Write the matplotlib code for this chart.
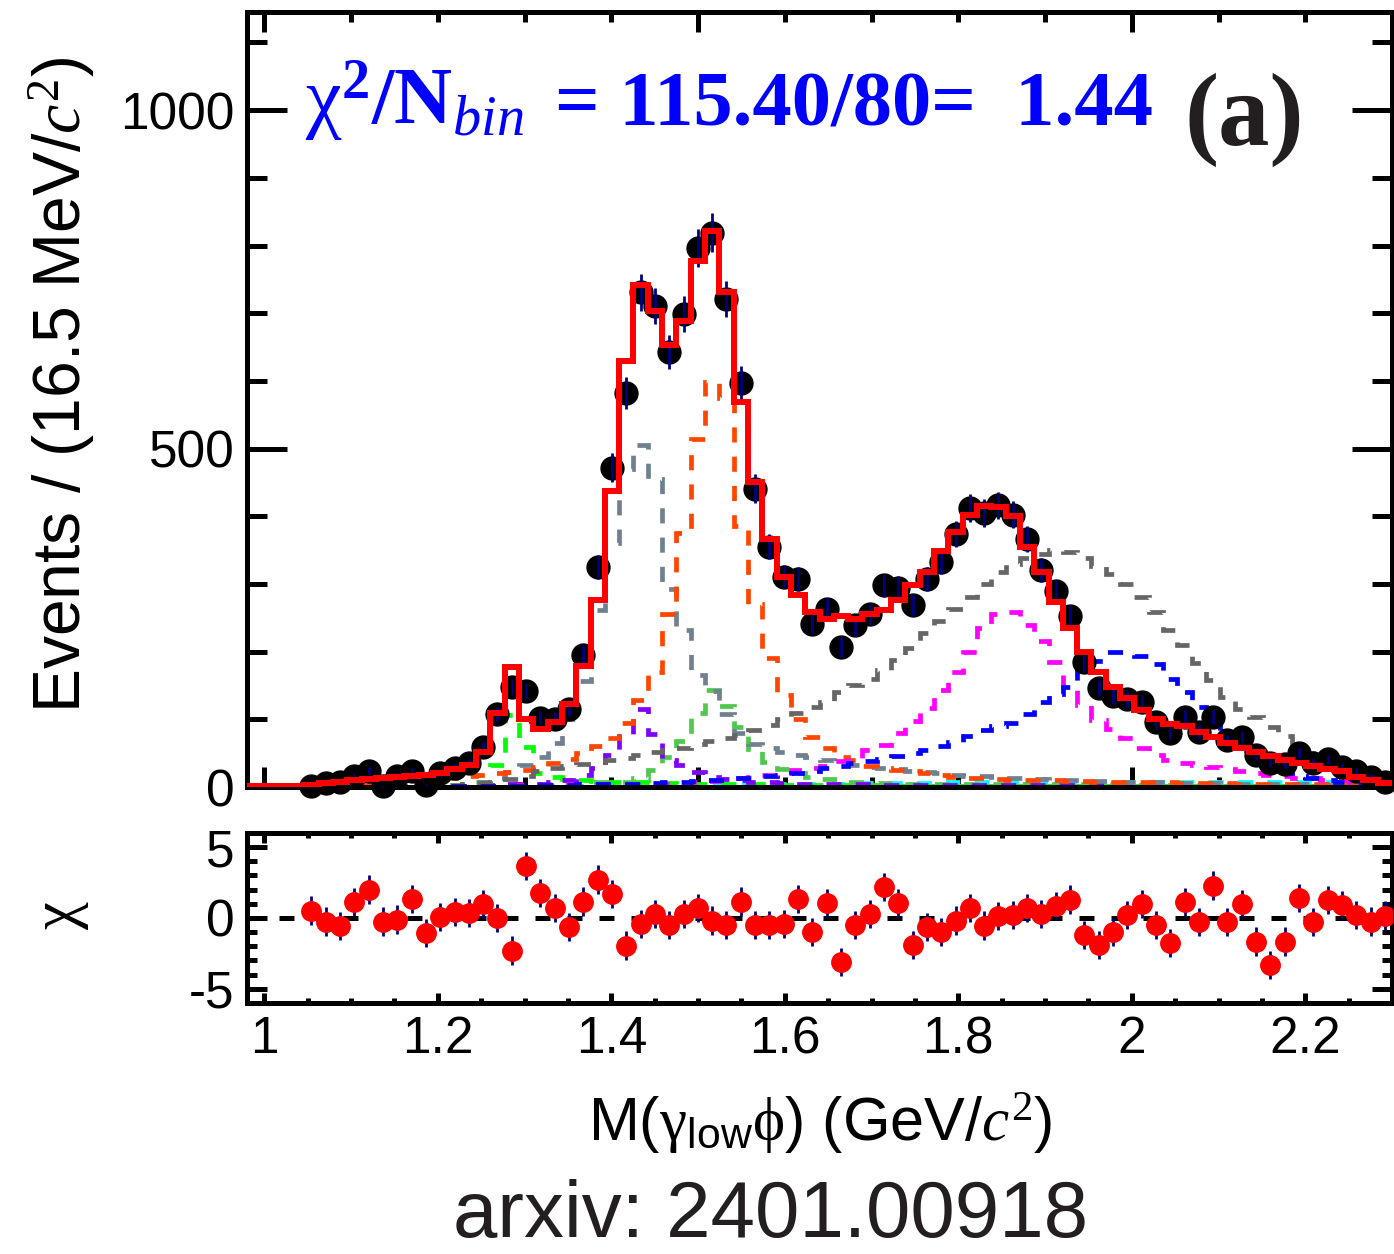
import matplotlib
matplotlib.use("Agg")
import matplotlib.pyplot as plt
from matplotlib.ticker import MultipleLocator, FixedLocator, FixedFormatter
import numpy as np

plt.rcParams['font.family'] = ['Liberation Sans', 'DejaVu Sans']
plt.rcParams['mathtext.fontset'] = 'custom'
plt.rcParams['mathtext.rm'] = 'Liberation Serif'
plt.rcParams['mathtext.it'] = 'Liberation Serif:italic'
plt.rcParams['mathtext.bf'] = 'Liberation Serif:bold'
plt.rcParams['mathtext.sf'] = 'Liberation Sans'

# binning: 80 bins of 16.5 MeV from 0.98 to 2.30 GeV
x_lo = 0.98
bin_w = 0.0165
n_bins = 80
first_data_bin = 4

# observed events per bin (bins 4..79)
counts = [1, 6, 8, 17, 24, 1, 17, 23, 3, 20,
          28, 35, 59, 108, 148, 142, 102, 101, 115, 195,
          325, 472, 582, 731, 711, 643, 699, 796, 819, 721,
          597, 441, 355, 311, 307, 241, 263, 207, 239, 256,
          298, 294, 269, 307, 333, 374, 412, 405, 416, 402,
          366, 321, 289, 253, 184, 146, 134, 130, 125, 96,
          80, 103, 82, 103, 69, 74, 47, 35, 34, 50,
          35, 41, 30, 23, 15, 8]

# total fit (bins 0..79)
fit_total = [1, 1, 1.5, 2, 2.5, 6, 8, 10, 12, 13,
             15, 16, 18, 21, 26, 33, 52, 110, 177, 100,
             85, 96, 123, 179, 277, 437, 630, 742, 703, 653,
             689, 777, 822, 731, 569, 450, 366, 311, 284, 259,
             248, 253, 248, 256, 261, 276, 298, 318, 349, 377,
             402, 415, 414, 400, 354, 317, 274, 235, 200, 170,
             148, 131, 114, 101, 93, 90, 82, 74, 65, 57,
             52, 46, 40, 35, 31, 26, 23, 15, 10, 6]

# chi = (data - fit) / error, bins 4..79
chi = [0.52, -0.26, -0.59, 1.11, 2.0, -0.26, -0.12, 1.34, -1.06, 0.05,
       0.4, 0.35, 0.99, 0.0, -2.3, 3.65, 1.77, 0.68, -0.66, 1.15,
       2.7, 1.7, -1.95, -0.42, 0.28, -0.49, 0.28, 0.68, -0.19, -0.49,
       1.15, -0.49, -0.49, -0.42, 1.34, -1.01, 1.06, -3.13, -0.49, 0.28,
       2.17, 1.04, -1.9, -0.66, -0.97, -0.19, 0.68, -0.54, 0.12, 0.21,
       0.68, 0.28, 0.83, 1.29, -1.2, -1.9, -1.0, 0.21, 0.99, -0.49,
       -1.77, 1.11, -0.3, 2.28, -0.3, 0.99, -1.67, -3.32, -1.67, 1.41,
       -0.3, 1.27, 0.92, 0.21, -0.26, 0.16]

# fit components (bins 0..79)
comp_slate = [0, 0, 0, 0, 0, 0, 0, 0, 0, 0,
              1, 1, 2, 2, 3, 5, 8, 14, 22, 32,
              44, 65, 100, 157, 262, 360, 470, 506, 455, 292,
              232, 165, 142, 108, 80, 64, 58, 52, 48, 44,
              40, 36, 33, 30, 28, 26, 24, 22, 20, 18,
              17, 16, 15, 14, 13, 12, 11, 10, 10, 9,
              9, 8, 8, 7, 7, 6, 6, 6, 5, 5,
              5, 4, 4, 4, 4, 3, 3, 3, 3, 3]
comp_orange = [0, 0, 0, 0, 1, 2, 3, 4, 5, 6,
               8, 9, 10, 12, 14, 16, 18, 20, 22, 25,
               30, 35, 41, 50, 60, 73, 95, 128, 170, 255,
               375, 514, 598, 575, 386, 270, 190, 136, 100, 74,
               58, 45, 40, 31, 28, 25, 23, 21, 18, 15,
               14, 13, 12, 11, 11, 10, 10, 9, 9, 8,
               8, 8, 7, 7, 7, 6, 6, 6, 6, 5,
               5, 5, 5, 4, 4, 4, 4, 3, 3, 3]
comp_lime = [0, 0, 0, 0, 0, 0, 0, 0, 0, 0,
             0, 0, 1, 1, 2, 2, 3, 3, 4, 4,
             5, 5, 6, 6, 7, 7, 8, 14, 25, 45,
             68, 110, 143, 120, 88, 56, 37, 27, 20, 15,
             12, 10, 8, 7, 6, 6, 5, 5, 5, 5,
             5, 5, 4, 4, 4, 4, 4, 4, 4, 4,
             4, 4, 3, 3, 3, 3, 3, 3, 3, 3,
             3, 3, 3, 2, 2, 2, 2, 2, 2, 2]
comp_green = [0, 0, 0, 0, 0, 0, 0, 0, 0, 0,
              0, 0, 1, 2, 3, 5, 8, 32, 106, 59,
              20, 15, 12, 10, 9, 8, 7, 7, 6, 6,
              5, 5, 5, 4, 4, 4, 4, 3, 3, 3,
              3, 3, 3, 3, 2, 2, 2, 2, 2, 2,
              2, 2, 2, 2, 2, 2, 2, 2, 2, 2,
              1, 1, 1, 1, 1, 1, 1, 1, 1, 1,
              1, 1, 1, 1, 1, 1, 1, 1, 1, 1]
comp_purple = [0, 0, 0, 0, 0, 0, 0, 0, 0, 0,
               0, 0, 1, 1, 1, 2, 3, 3, 4, 4,
               5, 7, 10, 18, 28, 48, 75, 115, 78, 40,
               32, 22, 15, 12, 10, 8, 7, 6, 5, 5,
               4, 4, 4, 4, 3, 3, 3, 3, 3, 3,
               3, 3, 3, 3, 3, 3, 3, 3, 3, 3,
               2, 2, 2, 2, 2, 2, 2, 2, 2, 2,
               2, 2, 2, 2, 2, 2, 2, 2, 2, 2]
comp_gray = [0, 0, 0, 0, 0, 0, 0, 0, 0, 0,
             0, 0, 1, 1, 2, 4, 6, 8, 12, 17,
             23, 28, 31, 34, 37, 40, 43, 47, 51, 55,
             58, 63, 68, 72, 77, 84, 92, 100, 110, 118,
             126, 140, 150, 160, 173, 188, 205, 228, 245, 263,
             281, 300, 318, 330, 338, 345, 350, 347, 338, 326,
             315, 300, 280, 258, 232, 210, 183, 158, 133, 115,
             103, 88, 75, 62, 50, 40, 33, 25, 18, 12]
comp_magenta = [0, 0, 0, 0, 0, 0, 0, 0, 0, 0,
                0, 0, 1, 1, 1, 2, 2, 2, 2, 3,
                3, 3, 4, 4, 4, 4, 5, 5, 5, 5,
                6, 7, 9, 11, 13, 15, 18, 21, 25, 28,
                31, 38, 43, 55, 62, 80, 97, 117, 143, 170,
                200, 235, 255, 258, 240, 215, 185, 148, 121, 99,
                85, 72, 58, 47, 40, 35, 32, 29, 26, 23,
                20, 18, 16, 14, 13, 11, 10, 8, 7, 6]
comp_blue = [0, 0, 0, 0, 0, 0, 0, 0, 0, 0,
             0, 0, 0, 0, 1, 1, 1, 2, 2, 2,
             3, 3, 3, 4, 4, 4, 5, 5, 6, 7,
             8, 9, 10, 11, 13, 14, 16, 18, 20, 24,
             28, 31, 35, 38, 42, 46, 50, 55, 60, 67,
             75, 84, 90, 95, 108, 126, 138, 148, 178, 186,
             200, 200, 194, 182, 160, 140, 118, 100, 80, 55,
             38, 30, 22, 17, 13, 10, 8, 7, 6, 5]
comp_cyan = [0, 0, 0, 0, 0, 0, 0, 0, 0, 0,
             0, 0, 0, 0, 0, 1, 1, 1, 1, 1,
             1, 2, 2, 2, 2, 2, 3, 3, 3, 3,
             3, 3, 4, 4, 4, 4, 4, 5, 5, 5,
             5, 5, 5, 6, 6, 6, 6, 6, 6, 7,
             7, 7, 7, 7, 7, 7, 7, 8, 8, 8,
             8, 8, 8, 8, 8, 8, 8, 8, 8, 8,
             8, 8, 8, 8, 8, 8, 8, 7, 7, 7]
comp_indianred = [0, 0, 0, 0, 1, 1, 1, 1, 2, 2,
                  2, 2, 2, 2, 2, 2, 2, 2, 2, 2,
                  2, 2, 2, 2, 2, 2, 2, 2, 2, 2,
                  2, 2, 2, 2, 2, 2, 2, 2, 2, 2,
                  2, 2, 2, 2, 2, 2, 2, 2, 2, 2,
                  2, 2, 2, 2, 2, 2, 2, 2, 2, 2,
                  2, 2, 2, 2, 2, 2, 2, 2, 2, 2,
                  2, 2, 2, 2, 2, 2, 2, 2, 2, 2]

components = [
    (comp_indianred, '#cd5c5c'),
    (comp_cyan, '#00ffff'),
    (comp_green, '#00ff00'),
    (comp_lime, '#50c850'),
    (comp_purple, '#8000ff'),
    (comp_slate, '#708090'),
    (comp_orange, '#ff4500'),
    (comp_gray, '#666666'),
    (comp_magenta, '#ff00ff'),
    (comp_blue, '#0000ff'),
]

xtick_vals = [1.0, 1.2, 1.4, 1.6, 1.8, 2.0, 2.2]
xtick_labels = ["1", "1.2", "1.4", "1.6", "1.8", "2", "2.2"]
ytick_vals = [0, 500, 1000]
ytick_labels = ["0", "500", "1000"]
chi_tick_vals = [-5, 0, 5]
chi_tick_labels = ["-5", "0", "5"]

edges = x_lo + bin_w * np.arange(n_bins + 1)
centers = 0.5 * (edges[:-1] + edges[1:])
xd = centers[first_data_bin:]
yd = np.array(counts, dtype=float)
ed = np.sqrt(yd)

fig = plt.figure(figsize=(13.94, 12.54), dpi=100)
ax1 = fig.add_axes([0.1772, 0.3724, 0.8214, 0.618])
ax2 = fig.add_axes([0.1772, 0.2002, 0.8214, 0.1356])

# --- upper panel: data, fit and components ---
for vals, col in components:
    ax1.stairs(vals, edges, baseline=None, color=col, lw=3.4,
               linestyle=(0, (3.2, 3.0)), zorder=2)

ax1.errorbar(xd, yd, yerr=ed, fmt='none', ecolor='#000080', elinewidth=2.0,
             capsize=0, zorder=4, clip_on=False)
ax1.plot(xd, yd, 'o', color='black', ms=16.5, zorder=3, clip_on=False)
ax1.stairs(fit_total, edges, baseline=None, color='#ff0000', lw=4.3, zorder=5)

ax1.set_xlim(edges[0], edges[-1])
ax1.set_ylim(0, 1145)
ax1.xaxis.set_major_locator(MultipleLocator(0.5))
ax1.xaxis.set_minor_locator(MultipleLocator(0.1))
ax1.yaxis.set_major_locator(FixedLocator(ytick_vals))
ax1.yaxis.set_major_formatter(FixedFormatter(ytick_labels))
ax1.yaxis.set_minor_locator(MultipleLocator(100))
ax1.tick_params(axis='x', which='both', direction='in', top=True, bottom=True,
                labelbottom=False, width=3.6)
ax1.tick_params(axis='x', which='major', length=14.5)
ax1.tick_params(axis='x', which='minor', length=7.2)
ax1.tick_params(axis='y', which='both', direction='in', left=True, right=True,
                width=3.6, labelsize=37, pad=9)
ax1.tick_params(axis='y', which='major', length=29)
ax1.tick_params(axis='y', which='minor', length=14.5)
for sp in ax1.spines.values():
    sp.set_linewidth(3.6)

ax1.set_ylabel(r"Events / (16.5 MeV/$c^{2}$)", fontsize=47.5, va='center')
ax1.yaxis.set_label_coords(-0.1616, 0.519)

# fit quality label, drawn in two pieces to keep plain spacing around "="
ax1.text(0.0507, 0.854, r"$\mathrm{\chi}^{\mathbf{2}}\mathbf{/N}_{\mathit{bin}}$",
         transform=ax1.transAxes, color='#0000ff', fontsize=58,
         ha='left', va='baseline')
ax1.text(0.269, 0.854, "= 115.40/80=  1.44", transform=ax1.transAxes,
         color='#0000ff', fontsize=56.5, family='Liberation Serif',
         weight='bold', ha='left', va='baseline')
ax1.text(0.819, 0.828, "(a)", transform=ax1.transAxes, color='#231f20',
         fontsize=74, family='Liberation Serif', weight='bold',
         ha='left', va='baseline')

# --- lower panel: chi residuals ---
ax2.axhline(0, color='black', lw=3.6, linestyle=(0, (3.0, 3.4)), zorder=2)
ax2.errorbar(xd, chi, yerr=1.0, fmt='none', ecolor='#000080', elinewidth=2.0,
             capsize=0, zorder=3)
ax2.plot(xd, chi, 'o', color='#ff0000', ms=14, zorder=4)

ax2.set_xlim(edges[0], edges[-1])
ax2.set_ylim(-6, 6)
ax2.xaxis.set_major_locator(FixedLocator(xtick_vals))
ax2.xaxis.set_major_formatter(FixedFormatter(xtick_labels))
ax2.xaxis.set_minor_locator(MultipleLocator(0.05))
ax2.yaxis.set_major_locator(FixedLocator(chi_tick_vals))
ax2.yaxis.set_major_formatter(FixedFormatter(chi_tick_labels))
ax2.yaxis.set_minor_locator(MultipleLocator(1))
ax2.tick_params(axis='both', which='both', direction='in', top=True, bottom=True,
                left=True, right=True, width=3.6, labelsize=37)
ax2.tick_params(axis='x', which='major', length=7.2, pad=9)
ax2.tick_params(axis='x', which='minor', length=3.6)
ax2.tick_params(axis='y', which='major', length=14.5, pad=9)
ax2.tick_params(axis='y', which='minor', length=7.2)
for sp in ax2.spines.values():
    sp.set_linewidth(3.6)

ax2.set_ylabel(r"$\mathrm{\chi}$", fontsize=45, va='center')
ax2.yaxis.set_label_coords(-0.1616, 0.518)
ax2.set_xlabel(r"M($\mathrm{\gamma}_{\mathsf{low}}\mathrm{\phi}$) (GeV/$c^{2}$)",
               fontsize=44, va='center')
ax2.xaxis.set_label_coords(0.501, -0.71)

fig.text(0.553, 0.0136, "arxiv: 2401.00918", fontsize=57.5, color='#231f20',
         ha='center', va='baseline')

fig.savefig("out.png", dpi=100)
